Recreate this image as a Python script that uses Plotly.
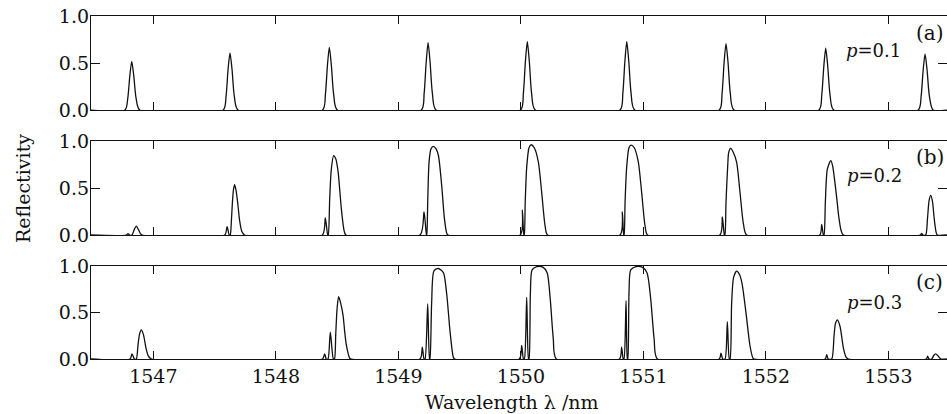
import plotly.graph_objects as go

# ---------------- data ----------------
x_ticks = [1547, 1548, 1549, 1550, 1551, 1552, 1553]
x_tick_labels = ["1547", "1548", "1549", "1550", "1551", "1552", "1553"]
y_ticks = [0.0, 0.5, 1.0]
y_tick_labels = ["0.0", "0.5", "1.0"]
panel_tags = ["(a)", "(b)", "(c)"]
p_labels = ["<i>p</i>=0.1", "<i>p</i>=0.2", "<i>p</i>=0.3"]

wavelength_a = [1546.49,
    1546.769, 1546.792, 1546.808, 1546.824, 1546.841, 1546.859, 1546.889,
    1547.571, 1547.594, 1547.610, 1547.626, 1547.643, 1547.661, 1547.691,
    1548.382, 1548.405, 1548.421, 1548.437, 1548.454, 1548.472, 1548.502,
    1549.188, 1549.211, 1549.227, 1549.243, 1549.260, 1549.278, 1549.308,
    1549.998, 1550.021, 1550.037, 1550.053, 1550.070, 1550.088, 1550.118,
    1550.810, 1550.833, 1550.849, 1550.865, 1550.882, 1550.900, 1550.930,
    1551.620, 1551.643, 1551.659, 1551.675, 1551.692, 1551.710, 1551.740,
    1552.434, 1552.457, 1552.473, 1552.489, 1552.506, 1552.524, 1552.554,
    1553.245, 1553.268, 1553.284, 1553.300, 1553.317, 1553.335, 1553.365,
    1553.48]
reflectivity_a = [0,
    0, 0.13, 0.36, 0.52, 0.36, 0.13, 0,
    0, 0.15, 0.43, 0.61, 0.43, 0.15, 0,
    0, 0.17, 0.47, 0.67, 0.47, 0.17, 0,
    0, 0.18, 0.50, 0.72, 0.50, 0.18, 0,
    0, 0.18, 0.51, 0.73, 0.51, 0.18, 0,
    0, 0.18, 0.51, 0.73, 0.51, 0.18, 0,
    0, 0.18, 0.50, 0.71, 0.50, 0.18, 0,
    0, 0.165, 0.46, 0.66, 0.46, 0.165, 0,
    0, 0.15, 0.42, 0.60, 0.42, 0.15, 0,
    0]

wavelength_b = [1546.49,
    1546.780, 1546.793, 1546.806, 1546.826, 1546.845, 1546.861, 1546.878, 1546.895, 1546.908,
    1547.583, 1547.602, 1547.620, 1547.628, 1547.636, 1547.645, 1547.654, 1547.664, 1547.676,
    1547.690, 1547.705, 1547.722, 1547.745,
    1548.380, 1548.404, 1548.424, 1548.428, 1548.440, 1548.453, 1548.472, 1548.490, 1548.508,
    1548.522, 1548.535, 1548.557, 1548.572,
    1549.177, 1549.210, 1549.230, 1549.232, 1549.240, 1549.251, 1549.267, 1549.286, 1549.307,
    1549.327, 1549.354, 1549.376, 1549.395, 1549.405,
    1549.995, 1550.013, 1550.025, 1550.028, 1550.036, 1550.048, 1550.067, 1550.084, 1550.110,
    1550.143, 1550.170, 1550.198, 1550.219,
    1550.810, 1550.829, 1550.840, 1550.843, 1550.851, 1550.864, 1550.883, 1550.900, 1550.926,
    1550.959, 1550.986, 1551.014, 1551.035,
    1551.625, 1551.645, 1551.662, 1551.666, 1551.675, 1551.689, 1551.697, 1551.713, 1551.735,
    1551.762, 1551.789, 1551.817, 1551.844,
    1552.440, 1552.456, 1552.470, 1552.475, 1552.486, 1552.502, 1552.530, 1552.545, 1552.565,
    1552.580, 1552.595, 1552.614, 1552.633,
    1553.262, 1553.272, 1553.282, 1553.305, 1553.320, 1553.333, 1553.346, 1553.360, 1553.375,
    1553.390, 1553.400,
    1553.48]
reflectivity_b = [0,
    0, 0.015, 0, 0, 0.06, 0.095, 0.06, 0.015, 0,
    0, 0.088, 0, 0, 0.12, 0.33, 0.48, 0.536, 0.47,
    0.33, 0.15, 0.04, 0,
    0, 0.183, 0, 0, 0.39, 0.70, 0.846, 0.81, 0.68,
    0.48, 0.28, 0.05, 0,
    0, 0.245, 0, 0, 0.35, 0.78, 0.92, 0.945, 0.92,
    0.85, 0.53, 0.18, 0.02, 0,
    0, 0.264, 0, 0, 0.35, 0.72, 0.93, 0.962, 0.93,
    0.78, 0.46, 0.10, 0,
    0, 0.247, 0, 0, 0.35, 0.72, 0.93, 0.958, 0.93,
    0.78, 0.46, 0.10, 0,
    0, 0.194, 0, 0, 0.35, 0.74, 0.88, 0.923, 0.88,
    0.775, 0.458, 0.12, 0,
    0, 0.113, 0, 0, 0.35, 0.70, 0.793, 0.74, 0.55,
    0.38, 0.20, 0.05, 0,
    0, 0.018, 0, 0, 0.18, 0.37, 0.423, 0.36, 0.17,
    0.03, 0,
    0]

wavelength_c = [1546.49,
    1546.810, 1546.826, 1546.846, 1546.861, 1546.875, 1546.888, 1546.902, 1546.920, 1546.940,
    1546.960, 1546.985,
    1548.380, 1548.399, 1548.412, 1548.426, 1548.445, 1548.470, 1548.479, 1548.489, 1548.500,
    1548.513, 1548.530, 1548.549, 1548.562, 1548.576, 1548.603, 1548.615,
    1549.177, 1549.196, 1549.210, 1549.218, 1549.240, 1549.255, 1549.258, 1549.272, 1549.291,
    1549.327, 1549.368, 1549.395, 1549.422, 1549.449, 1549.460,
    1549.988, 1550.007, 1550.022, 1550.029, 1550.048, 1550.063, 1550.067, 1550.078, 1550.092,
    1550.130, 1550.180, 1550.215, 1550.240, 1550.265, 1550.290,
    1550.805, 1550.823, 1550.836, 1550.842, 1550.859, 1550.870, 1550.873, 1550.883, 1550.897,
    1550.940, 1550.990, 1551.030, 1551.060, 1551.088, 1551.115,
    1551.620, 1551.634, 1551.648, 1551.667, 1551.686, 1551.702, 1551.708, 1551.721, 1551.737,
    1551.762, 1551.785, 1551.805, 1551.838, 1551.871, 1551.895, 1551.905,
    1552.485, 1552.497, 1552.510, 1552.538, 1552.557, 1552.568, 1552.584, 1552.606, 1552.633,
    1552.655, 1552.674,
    1553.310, 1553.321, 1553.333, 1553.354, 1553.372, 1553.387, 1553.405, 1553.428,
    1553.48]
reflectivity_c = [0,
    0, 0.054, 0, 0, 0.15, 0.27, 0.314, 0.26, 0.12,
    0.03, 0,
    0, 0.054, 0, 0, 0.289, 0, 0, 0.26, 0.54,
    0.671, 0.60, 0.47, 0.30, 0.15, 0.01, 0,
    0, 0.128, 0, 0, 0.593, 0, 0, 0.60, 0.95,
    0.975, 0.93, 0.70, 0.30, 0.02, 0,
    0, 0.146, 0, 0, 0.664, 0, 0, 0.70, 0.96,
    0.995, 0.99, 0.93, 0.65, 0.22, 0,
    0, 0.128, 0, 0, 0.628, 0, 0, 0.70, 0.96,
    0.995, 0.99, 0.93, 0.65, 0.22, 0,
    0, 0.064, 0, 0, 0.403, 0, 0, 0.60, 0.88,
    0.946, 0.91, 0.82, 0.50, 0.14, 0.01, 0,
    0, 0.046, 0, 0, 0.25, 0.38, 0.421, 0.35, 0.12,
    0.02, 0,
    0, 0.03, 0, 0, 0.04, 0.055, 0.035, 0,
    0]

# ---------------- figure ----------------
FONT = "DejaVu Serif"
INK = "#111111"
W, H = 947, 414
ML, MR, MT, MB = 91, 0, 16, 55
TICK_SIZE = 19

fig = go.Figure()
series = [(wavelength_a, reflectivity_a), (wavelength_b, reflectivity_b), (wavelength_c, reflectivity_c)]
for i, (wx, ry) in enumerate(series):
    sfx = "" if i == 0 else str(i + 1)
    fig.add_trace(go.Scatter(
        x=wx, y=ry, mode="lines",
        line=dict(color=INK, width=1.3, shape="spline", smoothing=0.7),
        xaxis="x" + sfx, yaxis="y" + sfx, showlegend=False, hoverinfo="skip"))

domains = [[0.7259, 1.0], [0.3615, 0.6364], [0.0, 0.2720]]
x_range = [1546.4914, 1553.479]
layout = dict(
    width=W, height=H,
    margin=dict(l=ML, r=MR, t=MT, b=MB),
    paper_bgcolor="white", plot_bgcolor="white",
    font=dict(family=FONT, size=TICK_SIZE, color=INK),
    showlegend=False,
)
for i in range(3):
    sfx = "" if i == 0 else str(i + 1)
    layout["xaxis" + sfx] = dict(
        domain=[0, 1], anchor="y" + sfx, range=x_range,
        tickvals=x_ticks, ticktext=x_tick_labels,
        ticks="inside", ticklen=8, tickwidth=1, tickcolor=INK,
        showline=True, linecolor=INK, linewidth=1.3, mirror="ticks",
        showgrid=False, zeroline=False,
        showticklabels=(i == 2),
        tickfont=dict(family=FONT, size=TICK_SIZE, color=INK),
    )
    layout["yaxis" + sfx] = dict(
        domain=domains[i], anchor="x" + sfx, range=[0, 1.005],
        tickvals=y_ticks, ticktext=y_tick_labels,
        ticks="inside", ticklen=9, tickwidth=1, tickcolor=INK,
        showline=True, linecolor=INK, linewidth=1.3, mirror="ticks",
        showgrid=False, zeroline=False, ticklabelstandoff=-3,
        tickfont=dict(family=FONT, size=TICK_SIZE, color=INK),
    )
fig.update_layout(**layout)

def px_to_paper(px, py):
    pw = W - ML - MR
    ph = H - MT - MB
    return (px - ML) / pw, (H - MB - py) / ph

annots = []
tag_pos = [(930, 33), (930, 157), (929, 282)]
p_pos = [(873, 50), (874, 175), (874, 302)]
for i in range(3):
    x, y = px_to_paper(*tag_pos[i])
    annots.append(dict(x=x, y=y, xref="paper", yref="paper", text=panel_tags[i],
                       showarrow=False, xanchor="center", yanchor="middle",
                       font=dict(family=FONT, size=20, color=INK)))
    x, y = px_to_paper(*p_pos[i])
    annots.append(dict(x=x, y=y, xref="paper", yref="paper", text=p_labels[i],
                       showarrow=False, xanchor="center", yanchor="middle",
                       font=dict(family=FONT, size=18, color=INK)))
x, y = px_to_paper(512, 402)
annots.append(dict(x=x, y=y, xref="paper", yref="paper", text="Wavelength λ /nm",
                   showarrow=False, xanchor="center", yanchor="middle",
                   font=dict(family=FONT, size=19, color=INK)))
x, y = px_to_paper(23, 189)
annots.append(dict(x=x, y=y, xref="paper", yref="paper", text="Reflectivity",
                   showarrow=False, xanchor="center", yanchor="middle", textangle=-90,
                   font=dict(family=FONT, size=19, color=INK)))
fig.update_layout(annotations=annots)

fig.write_html("out.html", config={"displayModeBar": False},
               post_script="document.body.style.margin='0px';document.body.style.overflow='hidden';")
